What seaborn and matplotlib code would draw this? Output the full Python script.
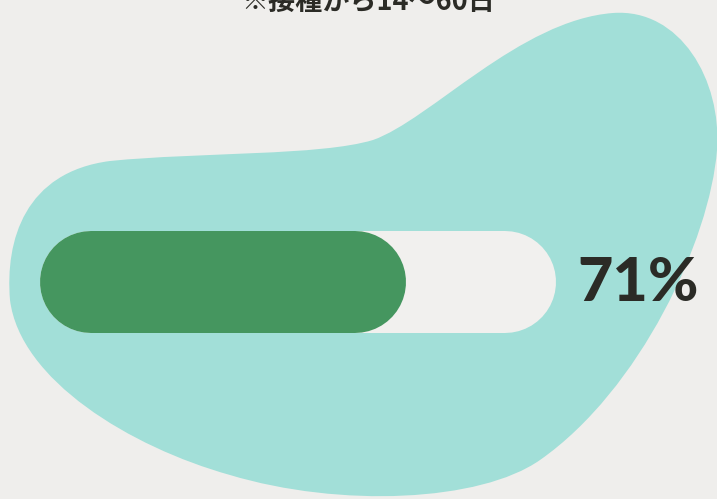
import matplotlib
matplotlib.use("Agg")
from matplotlib import pyplot as plt
from matplotlib.path import Path
from matplotlib.patches import PathPatch
import seaborn as sns
import pandas as pd

# data
labels = ["接種後"]
total = [100]
values = [71]
note = "※接種から14〜60日"

bg = "#efeeec"
blob_col = "#a2dfd8"
fill_col = "#45965f"
track_col = "#f1f0ee"
text_col = "#2b2b26"

sns.set_theme(style="white")
plt.rcParams["font.family"] = ["Noto Sans CJK JP", "DejaVu Sans"]

fig = plt.figure(figsize=(7.17, 4.99), dpi=100, facecolor=bg)

# background blob, pixel coordinates
bg_ax = fig.add_axes([0, 0, 1, 1])
bg_ax.set_xlim(0, 717)
bg_ax.set_ylim(499, 0)
bg_ax.axis("off")
verts = [
    (10, 300),
    (5, 240), (25, 172), (110, 161),
    (200, 152), (320, 156), (373, 140),
    (430, 120), (520, 20), (613, 13),
    (680, 8), (722, 80), (717, 150),
    (710, 240), (640, 390), (540, 460),
    (480, 502), (340, 508), (230, 475),
    (130, 447), (20, 380), (10, 300),
]
codes = [Path.MOVETO] + [Path.CURVE4] * 21
bg_ax.add_patch(PathPatch(Path(verts, codes), facecolor=blob_col, edgecolor="none"))
bg_ax.text(368, 10, note, ha="center", va="baseline", fontsize=19.5,
           fontweight="bold", color=text_col)
bg_ax.text(638, 283, f"{values[0]}%", ha="center", va="center", fontsize=44,
           fontweight=900, color=text_col, family=["Lato", "DejaVu Sans"])

# progress bar
x0, x1, y0, y1 = 40, 556, 231, 333
bar_ax = fig.add_axes([x0 / 717, 1 - y1 / 499, (x1 - x0) / 717, (y1 - y0) / 499])
df_total = pd.DataFrame({"label": labels, "value": total})
df_val = pd.DataFrame({"label": labels, "value": values})
sns.barplot(data=df_total, x="value", y="label", color=track_col, width=1.0,
            saturation=1, ax=bar_ax)
sns.barplot(data=df_val, x="value", y="label", color=fill_col, width=1.0,
            saturation=1, ax=bar_ax)
bar_ax.set_xlim(0, 100)
bar_ax.set_ylim(0.5, -0.5)
bar_ax.axis("off")
bar_ax.patch.set_alpha(0)

# turn the bars into capsules (round caps of half the bar height)
r_x = (y1 - y0) / 2 / (x1 - x0) * 100
lw = (y1 - y0) * 72 / 100
for p in list(bar_ax.patches):
    bx, w = p.get_x(), p.get_width()
    cy = p.get_y() + p.get_height() / 2
    fc = p.get_facecolor()
    p.remove()
    bar_ax.plot([bx + r_x, bx + w - r_x], [cy, cy], color=fc, lw=lw,
                solid_capstyle="round", clip_on=False)

fig.savefig("out.png", dpi=100, facecolor=bg)
